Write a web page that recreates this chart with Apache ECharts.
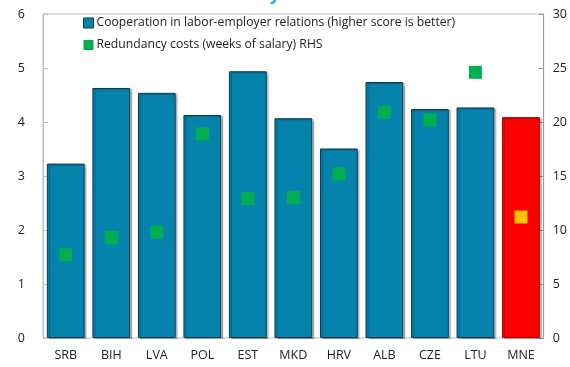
<!DOCTYPE html>
<html>
<head>
<meta charset="utf-8">
<script src="https://cdn.jsdelivr.net/npm/echarts@6/dist/echarts.min.js"></script>
<style>
  html, body { margin: 0; padding: 0; background: #fff; }
  #chart { width: 570px; height: 367px; }
</style>
</head>
<body>
<div id="chart"></div>
<script>
// Country codes along the x axis
const countries = ['SRB', 'BIH', 'LVA', 'POL', 'EST', 'MKD', 'HRV', 'ALB', 'CZE', 'LTU', 'MNE'];
// Cooperation in labor-employer relations score (left axis)
const cooperation = [3.23, 4.63, 4.54, 4.13, 4.94, 4.07, 3.51, 4.74, 4.24, 4.27, 4.09];
// Redundancy costs in weeks of salary (right axis)
const redundancy = [7.7, 9.3, 9.8, 18.9, 12.9, 13.0, 15.2, 20.9, 20.2, 24.6, 11.2];
const leftTicks = [0, 1, 2, 3, 4, 5, 6];
const rightTicks = [0, 5, 10, 15, 20, 25, 30];

const highlight = 'MNE';
const FONT = 'Open Sans';

const chart = echarts.init(document.getElementById('chart'), null, { renderer: 'canvas' });

const barData = cooperation.map((v, i) => ({
  value: v,
  itemStyle: countries[i] === highlight
    ? { color: '#ff0000', borderColor: '#b00000' }
    : { color: '#0583ad', borderColor: '#0d3a4c' }
}));
const dotData = redundancy.map((v, i) => ({
  value: v,
  itemStyle: { color: countries[i] === highlight ? '#ffc000' : '#00b050', opacity: 1 }
}));

chart.setOption({
  animation: false,
  title: {
    text: 'Labor Market Flexibility',
    left: 72,
    top: -18,
    textStyle: { color: '#2aa6dc', fontFamily: FONT, fontWeight: 'bold', fontSize: 17 }
  },
  grid: {
    left: 43, right: 22, top: 14, bottom: 29,
    show: true, borderColor: '#bdbdbd', borderWidth: 1
  },
  legend: {
    orient: 'vertical',
    left: 78, top: 12,
    itemGap: 10,
    itemWidth: 10, itemHeight: 10,
    textStyle: { fontFamily: FONT, fontSize: 12.2, color: '#222', padding: [0, 0, 0, -2] },
    data: [
      { name: 'Cooperation in labor-employer relations (higher score is better)',
        icon: 'rect', itemStyle: { color: '#0583ad', borderColor: '#0d3a4c', borderWidth: 1 } },
      { name: 'Redundancy costs (weeks of salary) RHS',
        icon: 'rect', itemStyle: { color: '#00b050', opacity: 1 } }
    ]
  },
  xAxis: {
    type: 'category',
    data: countries,
    axisLine: { show: false },
    axisTick: { show: false },
    axisLabel: { fontFamily: FONT, fontSize: 12.5, color: '#222', margin: 11 }
  },
  yAxis: [
    {
      type: 'value', min: leftTicks[0], max: leftTicks[leftTicks.length - 1], interval: 1,
      position: 'left',
      axisLine: { show: true, lineStyle: { color: '#bdbdbd' } },
      axisTick: { show: true, inside: true, length: 5, lineStyle: { color: '#bdbdbd' } },
      splitLine: { show: false },
      axisLabel: { fontFamily: FONT, fontSize: 12.5, color: '#222', margin: 18 }
    },
    {
      type: 'value', min: rightTicks[0], max: rightTicks[rightTicks.length - 1], interval: 5,
      position: 'right',
      axisLine: { show: true, lineStyle: { color: '#9a9a9a' } },
      axisTick: { show: true, inside: true, length: 5, lineStyle: { color: '#9a9a9a' } },
      splitLine: { show: false },
      axisLabel: { fontFamily: FONT, fontSize: 12.5, color: '#222', margin: 9 }
    }
  ],
  series: [
    {
      name: 'Cooperation in labor-employer relations (higher score is better)',
      type: 'bar',
      yAxisIndex: 0,
      barCategoryGap: '17%',
      data: barData,
      itemStyle: { borderWidth: 1, shadowColor: 'rgba(0,0,0,0.25)', shadowOffsetX: 2, shadowOffsetY: 1, shadowBlur: 1 }
    },
    {
      name: 'Redundancy costs (weeks of salary) RHS',
      type: 'scatter',
      yAxisIndex: 1,
      symbol: 'rect',
      symbolSize: 13,
      data: dotData,
      z: 5
    }
  ]
});
</script>
</body>
</html>
